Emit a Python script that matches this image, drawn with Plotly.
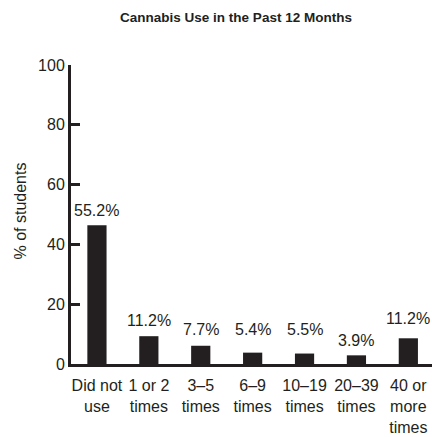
import plotly.graph_objects as go

categories = ["Did not<br>use", "1 or 2<br>times", "3–5<br>times", "6–9<br>times",
              "10–19<br>times", "20–39<br>times", "40 or<br>more<br>times"]
bar_heights = [46.4, 9.3, 6.1, 3.8, 3.5, 2.9, 8.6]
label_texts = ["55.2%", "11.2%", "7.7%", "5.4%", "5.5%", "3.9%", "11.2%"]
y_ticks = [0, 20, 40, 60, 80, 100]

# style: pixel lift of each value label above its bar
label_lift = [15, 16, 16, 23, 24, 15, 20]

INK = "#231f20"
FONT = "Liberation Sans, Arial, sans-serif"

x_idx = list(range(len(categories)))

fig = go.Figure(go.Bar(
    x=x_idx, y=bar_heights, width=0.37,
    marker=dict(color=INK, line=dict(width=0)),
    hoverinfo="skip",
))

for i, (h, t, lift) in enumerate(zip(bar_heights, label_texts, label_lift)):
    fig.add_annotation(x=i, y=h, text=t, showarrow=False, xanchor="center",
                       yanchor="middle", yshift=lift,
                       font=dict(family=FONT, size=16, color=INK))

fig.add_annotation(xref="paper", yref="paper", x=0, y=0.5, xshift=-51, yshift=3,
                   text="% of students", textangle=-90, showarrow=False,
                   xanchor="center", yanchor="middle",
                   font=dict(family=FONT, size=16, color=INK))

fig.update_layout(
    width=432, height=437,
    margin=dict(l=71, r=0, t=65, b=73, pad=0, autoexpand=False),
    paper_bgcolor="white", plot_bgcolor="white",
    showlegend=False,
    title=dict(text="<b>Cannabis Use in the Past 12 Months</b>",
               x=236 / 432, xanchor="center", xref="container",
               y=1 - 17 / 437, yanchor="middle", yref="container",
               font=dict(family=FONT, size=13.5, color=INK)),
    xaxis=dict(
        range=[-0.5, 6.456], tickmode="array", tickvals=x_idx, ticktext=categories,
        tickson="boundaries", ticks="inside", ticklen=5, tickwidth=1.5, tickcolor=INK,
        tickangle=0, automargin=False, ticklabelstandoff=5,
        showline=True, linewidth=3, linecolor=INK, showgrid=False, zeroline=False,
        tickfont=dict(family=FONT, size=16, color=INK), fixedrange=True,
    ),
    yaxis=dict(
        range=[0, 100], tickmode="array", tickvals=y_ticks, automargin=False,
        ticks="inside", ticklen=9, tickwidth=2.5, tickcolor=INK,
        showline=True, linewidth=3, linecolor=INK, showgrid=False, zeroline=False,
        tickfont=dict(family=FONT, size=16, color=INK), fixedrange=True,
    ),
)

fig.write_html(
    "out.html",
    config={"displayModeBar": False},
    post_script="document.body.style.margin='0';document.body.style.overflow='hidden';",
)
